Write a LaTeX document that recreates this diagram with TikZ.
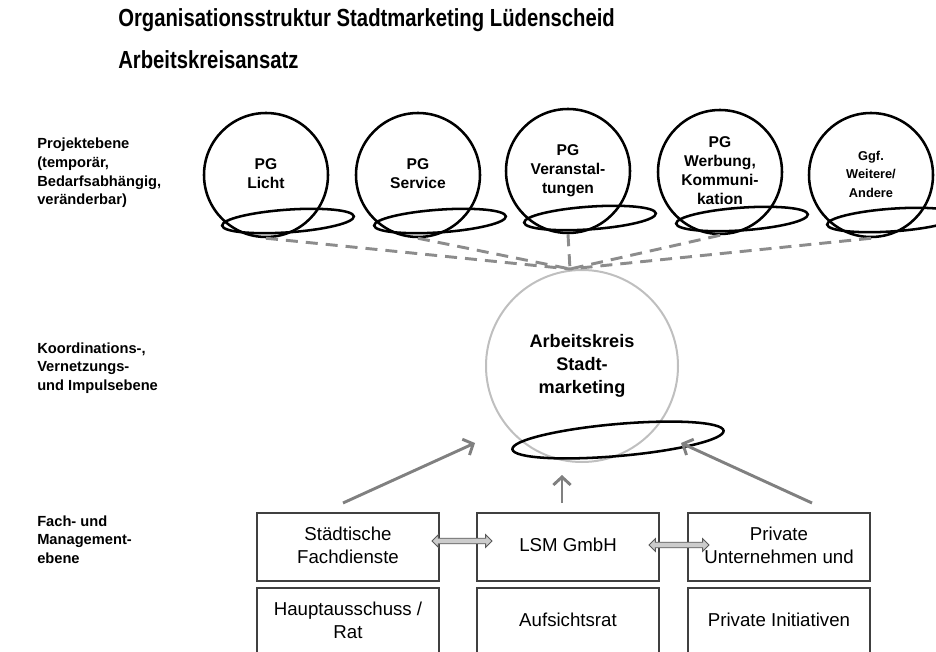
\documentclass[tikz,border=0pt]{standalone}
\usepackage{fontspec}
\usepackage{graphicx}
\setmainfont{Liberation Sans}
\usetikzlibrary{positioning,arrows.meta,shapes.geometric,shapes.arrows}

% stacked lines, and the tall lettering of the heading
\newcommand{\stack}[2][c]{\begin{tabular}{@{}#1@{}}#2\end{tabular}}
\newcommand{\tallhead}[1]{\scalebox{1}[1.22]{#1}}

\begin{document}
\begin{tikzpicture}[x=0.75pt,y=-0.75pt,
  pg/.style={circle,draw,line width=1.9pt,minimum size=93pt,inner sep=0pt,
    font=\fontsize{11.7}{14.3}\selectfont\bfseries},
  ring/.style={ellipse,draw,line width=1.9pt,minimum width=99pt,minimum height=17pt,inner sep=0pt,rotate=4},
  link/.style={draw=black!45,line width=2.2pt,dash pattern=on 9pt off 6pt},
  push/.style={draw=gray,line width=2.2pt,-{Straight Barb[length=6pt,width=13pt,line width=2.2pt]}},
  unit/.style={draw=black!75,line width=0.8pt,minimum width=136.5pt,minimum height=51pt,inner sep=0pt,
    font=\fontsize{14}{17.3}\selectfont},
  level/.style={anchor=west,inner sep=0pt,font=\fontsize{11}{14}\selectfont\bfseries},
  head/.style={anchor=west,inner sep=0pt,font=\fontsize{15.2}{18}\selectfont\bfseries},
  swap/.style={double arrow,draw=black!65,fill=gray!40,line width=0.7pt,minimum height=45pt,
    minimum width=9.5pt,double arrow head extend=2.4pt,inner xsep=0pt,inner ysep=1.5pt,
    text height=0pt,text depth=0pt}
]
\useasboundingbox (0,0) rectangle (936,652);

% title
\node[head] (title) at (118,20) {\tallhead{Organisationsstruktur Stadtmarketing Lüdenscheid}};
\node[head] (subtitle) at (118,60) {\tallhead{Arbeitskreisansatz}};

% levels
\node[level] (lvproj) at (37,173) {\stack[l]{Projektebene\\(temporär,\\Bedarfsabhängig,\\veränderbar)}};
\node[level] (lvkoord) at (37,368) {\stack[l]{Koordinations-,\\Vernetzungs-\\und Impulsebene}};
\node[level] (lvfach) at (37,541) {\stack[l]{Fach- und\\Management-\\ebene}};

% project groups
\node[pg] (pg1) at (266,175) {\stack{PG\\Licht}};
\node[pg] (pg2) at (418,175) {\stack{PG\\Service}};
\node[pg] (pg3) at (568,171) {\stack{PG\\Veranstal-\\tungen}};
\node[pg] (pg4) at (720,172) {\raisebox{-5pt}{\stack{PG\\Werbung,\\Kommuni-\\kation}}};
\node[pg,font=\fontsize{9.6}{14}\selectfont\bfseries] (pg5) at (871,175) {\stack{Ggf.\\Weitere/\\Andere}};
\node[ring] (r1) at (288,221) {};
\node[ring] (r2) at (440,221) {};
\node[ring] (r3) at (590,218) {};
\node[ring] (r4) at (742,219) {};
\node[ring] (r5) at (893,220) {};

% working group
\node[circle,draw=gray!50,line width=1.5pt,minimum size=144pt,inner sep=0pt,
  font=\fontsize{13.6}{17.3}\selectfont\bfseries] (ak) at (582,366) {\stack{Arbeitskreis\\Stadt-\\marketing}};
\node[ring,minimum width=159pt,minimum height=24pt,rotate=1] (akring) at (618,440) {};
\coordinate (hub) at (570,269);
\foreach \g in {pg1,pg2,pg3,pg4,pg5}
  \draw[link] (\g.south) -- (hub);

% management level
\node[unit] (fd) at (348,547) {\stack{Städtische\\Fachdienste}};
\node[unit] (lsm) at (568,547) {\stack{LSM GmbH}};
\node[unit] (pu) at (779,547) {\stack{Private\\Unternehmen und}};
\node[unit] (rat) at (348,622) {\stack{Hauptausschuss /\\Rat}};
\node[unit] (ar) at (568,622) {\stack{Aufsichtsrat}};
\node[unit] (pi) at (779,622) {\stack{Private Initiativen}};

\node[swap] (sw1) at (462,541) {};
\node[swap] (sw2) at (679,545) {};

\coordinate (inl) at (475,443);
\coordinate (inm) at (562,475);
\coordinate (inr) at (681,443);
\draw[push] (343,503) -- (inl);
\draw[push] (562,503) -- (inm);
\draw[push] (812,503) -- (inr);
\end{tikzpicture}
\end{document}
